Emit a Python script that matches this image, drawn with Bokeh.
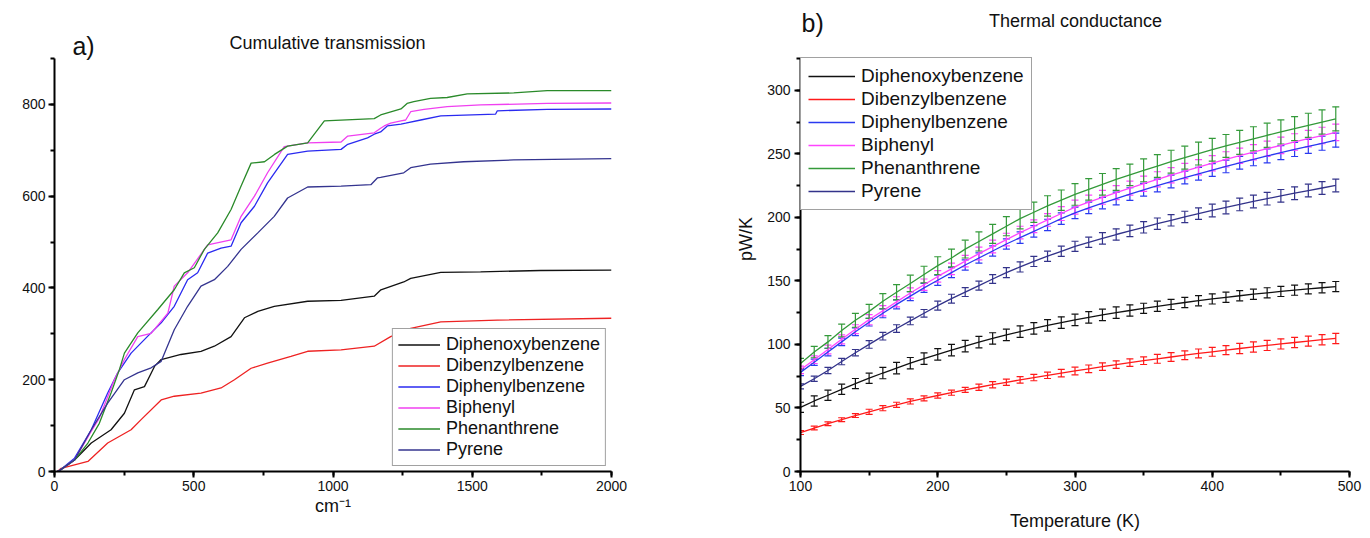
from bokeh.plotting import figure
from bokeh.models import Range1d, Label, Whisker, TeeHead, ColumnDataSource, SingleIntervalTicker
from bokeh.layouts import row
from bokeh.embed import file_html
from bokeh.resources import INLINE

FONT = "Liberation Sans"

names = ["Diphenoxybenzene", "Dibenzylbenzene", "Diphenylbenzene", "Biphenyl", "Phenanthrene", "Pyrene"]
colors_a = ["#111111", "#ee2222", "#2a2af0", "#f040f0", "#2a8a2a", "#34348f"]
colors_b = ["#111111", "#ff1a1a", "#2a3af0", "#ff44ff", "#349a3a", "#33338a"]

# ---------- panel a: cumulative transmission ----------
diphenoxy_x = [10, 20, 72, 132, 203, 251, 287, 323, 359, 383, 454, 526, 574, 634, 682, 730, 789, 909, 1029, 1148, 1172, 1254, 1279, 1387, 1530, 1745, 2000]
diphenoxy_y = [0, 3, 25, 62, 91, 127, 178, 185, 229, 244, 255, 262, 273, 294, 335, 349, 360, 371, 373, 382, 396, 413, 421, 434, 435, 438, 439]

dibenzyl_x = [10, 24, 120, 191, 275, 311, 383, 430, 526, 598, 646, 706, 765, 849, 909, 1029, 1148, 1207, 1279, 1387, 1590, 2000]
dibenzyl_y = [0, 7, 22, 62, 91, 113, 156, 164, 171, 182, 200, 225, 236, 251, 262, 265, 273, 294, 312, 326, 330, 334]

diphenyl_x = [10, 20, 72, 132, 191, 227, 275, 335, 383, 430, 478, 514, 550, 598, 634, 670, 718, 765, 837, 909, 1029, 1053, 1124, 1148, 1171, 1195, 1244, 1261, 1315, 1387, 1584, 1590, 1769, 2000]
diphenyl_y = [0, 3, 29, 91, 171, 215, 258, 295, 324, 360, 418, 433, 476, 487, 491, 542, 578, 629, 691, 698, 702, 713, 727, 735, 740, 753, 757, 759, 766, 775, 779, 786, 789, 790]

biphenyl_x = [10, 20, 72, 132, 160, 215, 251, 299, 347, 407, 430, 478, 550, 634, 670, 718, 765, 825, 909, 1029, 1053, 1148, 1171, 1184, 1207, 1244, 1261, 1279, 1327, 1410, 1530, 1769, 2000]
biphenyl_y = [0, 3, 25, 88, 115, 200, 244, 294, 301, 345, 404, 433, 494, 505, 556, 600, 651, 708, 716, 718, 731, 738, 748, 753, 759, 764, 766, 784, 789, 795, 799, 802, 803]

phenanthrene_x = [10, 20, 72, 120, 161, 203, 233, 251, 299, 371, 430, 466, 502, 538, 586, 634, 670, 706, 754, 790, 837, 909, 969, 1148, 1171, 1244, 1266, 1290, 1350, 1410, 1482, 1649, 1769, 2000]
phenanthrene_y = [0, 3, 25, 62, 105, 171, 222, 258, 302, 353, 396, 433, 444, 484, 520, 571, 622, 672, 675, 691, 709, 716, 764, 769, 777, 790, 802, 806, 813, 815, 823, 825, 830, 830]

pyrene_x = [10, 20, 72, 132, 191, 251, 299, 347, 383, 430, 478, 526, 574, 622, 670, 730, 789, 837, 909, 1029, 1136, 1160, 1171, 1254, 1279, 1350, 1469, 1649, 2000]
pyrene_y = [0, 3, 25, 91, 149, 200, 215, 226, 240, 309, 360, 404, 418, 447, 484, 520, 556, 596, 620, 622, 625, 640, 641, 651, 662, 670, 675, 679, 682]

a_x = [diphenoxy_x, dibenzyl_x, diphenyl_x, biphenyl_x, phenanthrene_x, pyrene_x]
a_y = [diphenoxy_y, dibenzyl_y, diphenyl_y, biphenyl_y, phenanthrene_y, pyrene_y]

# ---------- panel b: thermal conductance ----------
temperature = list(range(100, 500, 10))

g_diphenoxy = [50.5, 55.5, 60, 64.7, 69.2, 73.4, 77.5, 81.4, 85.2, 88.8, 92.2, 95.5, 98.7, 101.8, 104.7, 107.5, 110.1, 112.6, 115, 117.2,
               119.3, 121.3, 123.2, 125.0, 126.7, 128.4, 130.0, 131.5, 133.0, 134.4, 135.8, 137.1, 138.3, 139.5, 140.6, 141.7, 142.7, 143.7, 144.6, 145.5]
g_dibenzyl = [30.6, 34.2, 37.6, 40.8, 44, 47, 49.8, 52.5, 55.1, 57.5, 59.8, 62, 64.2, 66.3, 68.3, 70.2, 72.1, 73.9, 75.7, 77.4,
              79.1, 80.8, 82.5, 84.1, 85.7, 87.2, 88.7, 90.1, 91.5, 92.9, 94.2, 95.5, 96.8, 98.0, 99.2, 100.4, 101.5, 102.6, 103.7, 104.7]
g_diphenyl = [78, 86, 94, 102, 110, 117.5, 124.5, 131.5, 138, 144.5, 150.5, 156.5, 162.5, 168, 173.5, 179, 184, 189, 194, 199,
              203.5, 207.5, 211.2, 214.8, 218.3, 221.7, 225, 228.2, 231.3, 234.3, 237.2, 240.1, 242.9, 245.6, 248.3, 250.9, 253.4, 255.9, 258.3, 260.7]
g_biphenyl = [80, 88, 96, 104, 112, 119.5, 126.5, 133.5, 140.5, 147, 153.5, 159.5, 165.5, 171.5, 177, 182.5, 188, 193, 198, 203,
              208, 212, 215.8, 219.5, 223, 226.5, 229.9, 233.2, 236.4, 239.5, 242.6, 245.6, 248.5, 251.3, 254, 256.7, 259.3, 261.9, 264.4, 266.9]
g_phenanthrene = [85, 94, 102, 111, 119, 126, 134, 141, 148, 155, 162, 168, 175, 181, 187, 193, 199, 204, 209, 213.5,
                  218, 222, 226, 229.8, 233.4, 237, 240.4, 243.8, 247, 250.2, 253.2, 256.2, 259, 261.8, 264.6, 267.2, 269.8, 272.4, 275, 277.5]
g_pyrene = [67, 73, 79.5, 86.5, 93.5, 100, 106.5, 112.5, 118.5, 124.5, 130.5, 136, 141.2, 146.3, 151.5, 156.5, 161, 165.3, 169.4, 173.3,
            177.2, 180.4, 183.5, 186.5, 189.4, 192.2, 195.0, 197.7, 200.3, 202.9, 205.4, 207.8, 210.2, 212.5, 214.7, 216.9, 219.0, 221.1, 223.1, 225.1]

e_diphenoxy = [4, 4, 4, 4, 4, 4, 4.5, 4.5, 4.5, 4.5, 4.5, 4.5, 4.5, 4.5, 4.5, 4.5, 4.5, 4.5, 4.5, 4.5,
               4.5, 4.5, 4.5, 4.5, 4.5, 4, 4, 4, 4, 4, 4, 4, 4, 4, 4, 4, 4, 4, 4, 4]
e_dibenzyl = [1.5, 1.5, 1.5, 1.5, 1.5, 2, 2, 2, 2, 2, 2, 2, 2, 2.5, 2.5, 2.5, 2.5, 2.5, 2.5, 3,
              3, 3, 3, 3, 3, 3, 3.5, 3.5, 3.5, 3.5, 3.5, 3.5, 4, 4, 4, 4, 4, 4, 4, 4]
e_diphenyl = [2.5, 2.5, 3, 3, 3, 3, 3.5, 3.5, 3.5, 3.5, 4, 4, 4, 4, 4, 4, 4.5, 4.5, 4.5, 4.5,
              4.5, 4.5, 4.5, 5, 5, 5, 5, 5, 5, 5, 5, 5, 5, 5, 5.5, 5.5, 5.5, 5.5, 5.5, 5.5]
e_biphenyl = [3, 3, 3.5, 3.5, 3.5, 4, 4, 4, 4, 4.5, 4.5, 4.5, 4.5, 5, 5, 5, 5, 5, 5, 5.5,
              5.5, 5.5, 5.5, 5.5, 5.5, 6, 6, 6, 6, 6, 6, 6, 6, 6, 6, 6.5, 6.5, 6.5, 6.5, 6.5]
e_phenanthrene = [4, 4.5, 5, 5, 5.5, 5.5, 6, 6, 6.5, 6.5, 7, 7, 7, 7.5, 7.5, 7.5, 8, 8, 8, 8,
                  8.5, 8.5, 8.5, 8.5, 8.5, 9, 9, 9, 9, 9, 9, 9, 9.5, 9.5, 9.5, 9.5, 9.5, 9.5, 9.5, 9.5]
e_pyrene = [2, 2, 2.5, 2.5, 2.5, 3, 3, 3, 3, 3, 3.5, 3.5, 3.5, 3.5, 3.5, 4, 4, 4, 4, 4,
            4, 4, 4.5, 4.5, 4.5, 4.5, 4.5, 4.5, 4.5, 4.5, 5, 5, 5, 5, 5, 5, 5, 5, 5, 5]

b_vals = [g_diphenoxy, g_dibenzyl, g_diphenyl, g_biphenyl, g_phenanthrene, g_pyrene]
b_errs = [e_diphenoxy, e_dibenzyl, e_diphenyl, e_biphenyl, e_phenanthrene, e_pyrene]

# axis extents (data)
A_YMAX = 900
B_YMAX = 325

# layout (pixels)
H = 536
TOP = 6
A_LEFT, A_FW, A_RIGHT = 54, 557, 79
B_LEFT, B_FW, B_RIGHT = 110, 549, 17
BOTTOM = H - 471
AXIS_PX = 413  # pixel height of the drawn y axis
FH = H - TOP - BOTTOM


def style_axes(p, tick_size="14px"):
    for ax in (p.xaxis[0], p.yaxis[0]):
        ax.axis_line_width = 2
        ax.axis_line_color = "black"
        ax.major_tick_line_width = 2
        ax.minor_tick_line_width = 2
        ax.major_tick_out = 6
        ax.major_tick_in = 0
        ax.minor_tick_out = 4
        ax.minor_tick_in = 0
        ax.major_label_text_font = FONT
        ax.major_label_text_font_size = tick_size
        ax.major_label_text_color = "#111111"
        ax.axis_label_text_font = FONT
        ax.axis_label_text_font_style = "normal"
        ax.axis_label_text_font_size = "18px"
        ax.axis_label_text_color = "#111111"
    p.xgrid.visible = False
    p.ygrid.visible = False
    p.outline_line_color = None


def style_legend(lg, font_size, glyph_w, label_h):
    lg.label_text_font = FONT
    lg.label_text_font_size = font_size
    lg.label_text_color = "#111111"
    lg.glyph_width = glyph_w
    lg.glyph_height = label_h
    lg.label_height = label_h
    lg.label_standoff = 6
    lg.border_line_color = "#444444"
    lg.border_line_width = 1.5
    lg.background_fill_alpha = 1.0


# ---------------- figure a ----------------
pa = figure(frame_width=A_FW, frame_height=FH, min_border_left=A_LEFT, min_border_right=A_RIGHT,
            min_border_top=TOP, min_border_bottom=BOTTOM, output_backend="svg", toolbar_location=None,
            x_range=Range1d(0, 2000), y_range=Range1d(0, A_YMAX * FH / AXIS_PX))
pa.xaxis.ticker = SingleIntervalTicker(interval=500, num_minor_ticks=2)
pa.yaxis.ticker = SingleIntervalTicker(interval=200, num_minor_ticks=2)
pa.yaxis.bounds = (0, A_YMAX)
pa.xaxis.axis_label = "cm\u207b\u00b9"
pa.xaxis.major_label_standoff = 3
pa.xaxis.axis_label_standoff = 2
pa.yaxis.major_label_standoff = 3
style_axes(pa)

for i in range(6):
    pa.line(a_x[i], a_y[i], color=colors_a[i], line_width=1.3, legend_label=names[i])

pa.legend.location = "bottom_right"
pa.legend.margin = 5
pa.legend.padding = 5
pa.legend.spacing = 0
style_legend(pa.legend[0], "18px", 42, 21)

pa.add_layout(Label(x=29, y=426, x_units="screen", y_units="screen", text="a)", text_font=FONT,
                    text_font_size="25px", text_align="center", text_baseline="middle", text_color="#111111"))
pa.add_layout(Label(x=273, y=429, x_units="screen", y_units="screen", text="Cumulative transmission", text_font=FONT,
                    text_font_size="18px", text_align="center", text_baseline="middle", text_color="#111111"))

# ---------------- figure b ----------------
pb = figure(frame_width=B_FW, frame_height=FH, min_border_left=B_LEFT, min_border_right=B_RIGHT,
            min_border_top=TOP, min_border_bottom=BOTTOM, output_backend="svg", toolbar_location=None,
            x_range=Range1d(100, 500), y_range=Range1d(0, B_YMAX * FH / AXIS_PX))
pb.xaxis.ticker = SingleIntervalTicker(interval=100, num_minor_ticks=2)
pb.yaxis.ticker = SingleIntervalTicker(interval=50, num_minor_ticks=2)
pb.yaxis.bounds = (0, B_YMAX)
pb.xaxis.axis_label = "Temperature (K)"
pb.yaxis.axis_label = "pW/K"
pb.xaxis.major_label_standoff = 3
pb.xaxis.axis_label_standoff = 17
pb.yaxis.major_label_standoff = 4
pb.yaxis.axis_label_standoff = 8
style_axes(pb)

for i in range(6):
    upper = [v + e for v, e in zip(b_vals[i], b_errs[i])]
    lower = [v - e for v, e in zip(b_vals[i], b_errs[i])]
    src = ColumnDataSource(dict(x=temperature, y=b_vals[i], upper=upper, lower=lower))
    pb.line("x", "y", source=src, color=colors_b[i], line_width=1.3, legend_label=names[i])
    w = Whisker(source=src, base="x", upper="upper", lower="lower", line_color=colors_b[i], line_width=1.2,
                upper_head=TeeHead(size=7, line_color=colors_b[i], line_width=1.2),
                lower_head=TeeHead(size=7, line_color=colors_b[i], line_width=1.2))
    pb.add_layout(w)

pb.legend.location = (0, 261)
pb.legend.margin = 0
pb.legend.padding = 7
pb.legend.spacing = 1
style_legend(pb.legend[0], "19px", 47, 22)

pb.add_layout(Label(x=1, y=449, x_units="screen", y_units="screen", text="b)", text_font=FONT,
                    text_font_size="25px", text_align="left", text_baseline="middle", text_color="#111111"))
pb.add_layout(Label(x=275, y=451, x_units="screen", y_units="screen", text="Thermal conductance", text_font=FONT,
                    text_font_size="18px", text_align="center", text_baseline="middle", text_color="#111111"))

layout = row(pa, pb)
open("out.html", "w").write(file_html(layout, INLINE))
